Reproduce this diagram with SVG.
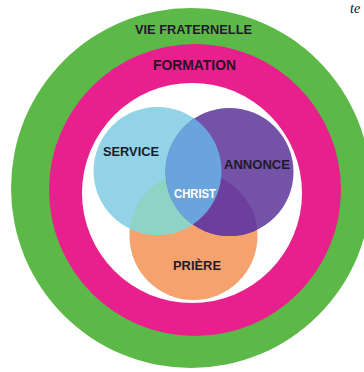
<svg xmlns="http://www.w3.org/2000/svg" width="364" height="372" viewBox="0 0 364 372">
<style>
.lbl{font-family:"Liberation Sans","DejaVu Sans",sans-serif;font-weight:bold;text-anchor:middle}
.dark{fill:#1c1a2a}
</style>
<defs>
<clipPath id="cS"><circle cx="157.5" cy="171" r="64"/></clipPath>
<clipPath id="cA"><circle cx="229.5" cy="172" r="64"/></clipPath>
</defs>
<rect width="364" height="372" fill="#ffffff"/>
<g id="vie-fraternelle">
<circle cx="191" cy="188" r="180" fill="#5cb947"/>
<text class="lbl dark" x="193.5" y="34" font-size="13" textLength="117" lengthAdjust="spacingAndGlyphs">VIE FRATERNELLE</text>
</g>
<g id="formation">
<circle cx="195" cy="190" r="146" fill="#e8208d"/>
<text class="lbl" x="194.5" y="70" font-size="14" fill="#2a1224" textLength="83" lengthAdjust="spacingAndGlyphs">FORMATION</text>
</g>
<circle cx="192" cy="193" r="110" fill="#ffffff"/>
<g id="priere">
<circle cx="193.5" cy="236" r="64" fill="#f5a26e"/>
</g>
<g id="service">
<circle cx="157.5" cy="171" r="64" fill="#93d3e8"/>
</g>
<g id="annonce">
<circle cx="229.5" cy="172" r="64" fill="#7452a7"/>
</g>
<g id="overlaps">
<circle cx="193.5" cy="236" r="64" fill="#8dd3c6" clip-path="url(#cS)"/>
<circle cx="193.5" cy="236" r="64" fill="#6c3e9e" clip-path="url(#cA)"/>
<circle cx="229.5" cy="172" r="64" fill="#69a5dc" clip-path="url(#cS)"/>
</g>
<g id="labels">
<text class="lbl dark" x="131" y="156" font-size="13" textLength="56" lengthAdjust="spacingAndGlyphs">SERVICE</text>
<text class="lbl dark" x="257" y="169" font-size="13" textLength="66" lengthAdjust="spacingAndGlyphs">ANNONCE</text>
<text class="lbl dark" x="197" y="270" font-size="13" textLength="48" lengthAdjust="spacingAndGlyphs">PRIÈRE</text>
</g>
<g id="christ">
<text class="lbl" x="195" y="198" font-size="12" fill="#ffffff" textLength="42" lengthAdjust="spacingAndGlyphs">CHRIST</text>
</g>
<text x="350" y="13" font-family="Liberation Serif, serif" font-style="italic" font-size="14" fill="#111111">te</text>
</svg>
